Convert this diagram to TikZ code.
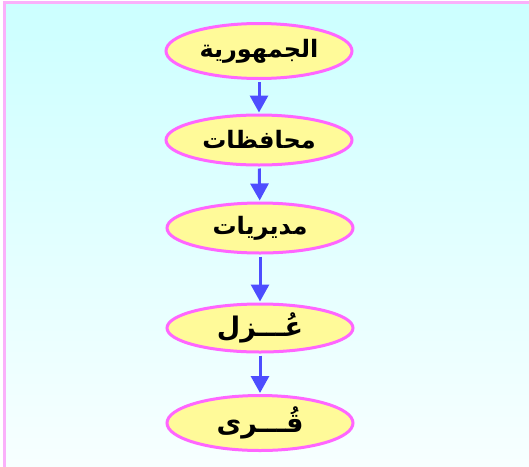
\documentclass[tikz,border=0pt]{standalone}
\usepackage{fontspec}
\usetikzlibrary{shapes.geometric,arrows.meta}
\TeXXeTstate=1
\newfontfamily\arabicfont[Script=Arabic]{DejaVu Sans}
\definecolor{bgtop}{RGB}{204,255,255}
\definecolor{bgbot}{RGB}{248,255,255}
\definecolor{framepink}{RGB}{250,176,250}
\definecolor{ovalline}{RGB}{255,102,255}
\definecolor{ovalfill}{RGB}{255,250,153}
\definecolor{arrowblue}{RGB}{77,77,255}
\tikzset{
  oval/.style={ellipse, draw=ovalline, fill=ovalfill, line width=3pt,
    minimum width=186pt, minimum height=50pt, inner sep=0pt,
    font=\arabicfont\bfseries\fontsize{24}{28}\selectfont},
  bigtext/.style={font=\arabicfont\bfseries\fontsize{27}{30}\selectfont},
  link/.style={draw=arrowblue, line width=3pt,
    -{Triangle[width=18pt,length=17pt]}, shorten <=2pt, shorten >=1pt}
}
\begin{document}
\begin{tikzpicture}[x=1pt,y=-1pt]
\useasboundingbox (0,0) rectangle (529,466);
\shade[top color=bgtop, bottom color=bgbot] (5,3) rectangle (540,475);
\fill[framepink] (3,1) rectangle (540,4);
\fill[framepink] (3,1) rectangle (6,475);
\node[oval, minimum height=55pt] (n1) at (259,51) {\beginR الجمهورية\endR};
\node[oval] (n2) at (259,140) {\beginR محافظات\endR};
\node[oval] (n3) at (260,228) {\beginR مديريات\endR};
\node[oval, bigtext, minimum height=48pt] (n4) at (260,328) {\beginR عُـــزل\endR};
\node[oval, bigtext, minimum height=55pt] (n5) at (260,423) {\beginR قُـــرى\endR};
\draw[link] (n1) -- (n2);
\draw[link] (n2) -- (n3);
\draw[link] (n3) -- (n4);
\draw[link] (n4) -- (n5);
\end{tikzpicture}
\end{document}
